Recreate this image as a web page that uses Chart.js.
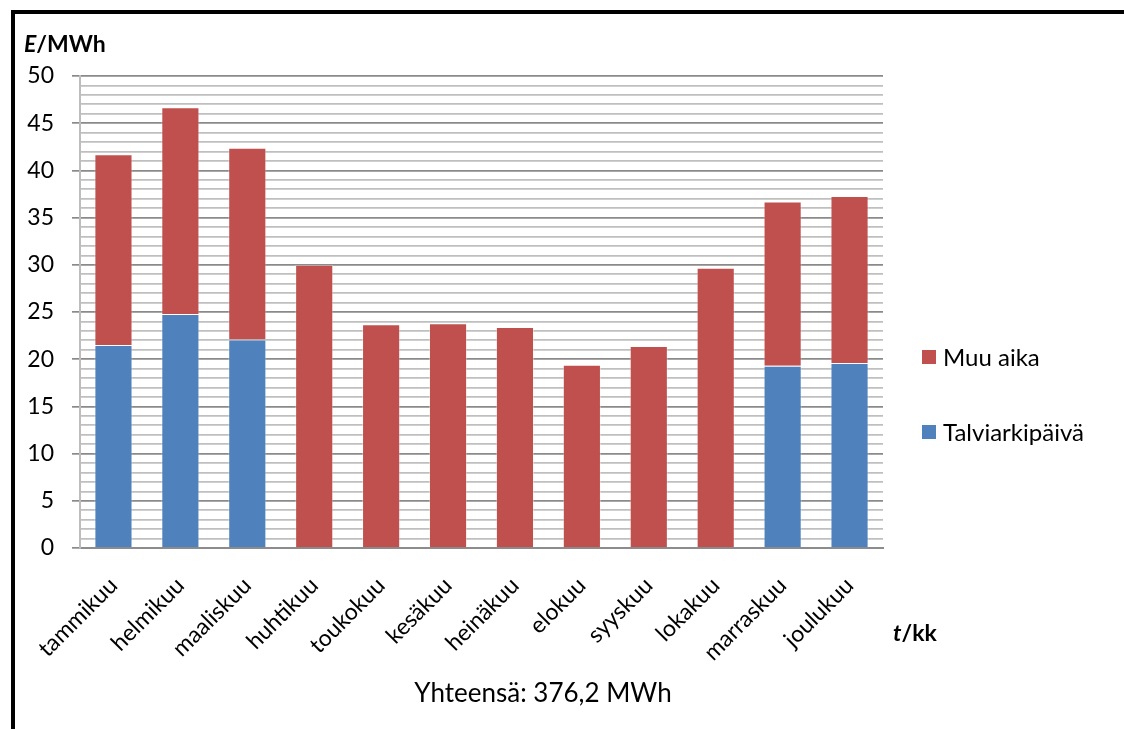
<!DOCTYPE html>
<html lang="fi">
<head>
<meta charset="utf-8">
<title>Energiankulutus kuukausittain</title>
<script src="https://cdn.jsdelivr.net/npm/chart.js@4/dist/chart.umd.min.js"></script>
<style>
  html, body { margin: 0; padding: 0; background: #ffffff; }
  #wrap { position: relative; width: 1124px; height: 729px; }
  canvas { display: block; }
</style>
</head>
<body>
<div id="wrap"><canvas id="c" width="1124" height="729"></canvas></div>
<script>
// Kuukaudet (luokka-akseli)
const months = ['tammikuu', 'helmikuu', 'maaliskuu', 'huhtikuu', 'toukokuu', 'kesäkuu',
                'heinäkuu', 'elokuu', 'syyskuu', 'lokakuu', 'marraskuu', 'joulukuu'];
// Talviarkipäivien energia, MWh
const talviarkipaiva = [21.5, 24.8, 22.1, 0, 0, 0, 0, 0, 0, 0, 19.3, 19.6];
// Muun ajan energia, MWh
const muuAika = [20.2, 21.9, 20.3, 30.0, 23.7, 23.8, 23.4, 19.4, 21.4, 29.7, 17.4, 17.7];
// Pystyakselin asteikko
const yMin = 0, yMax = 50, yMajorStep = 5, yMinorStep = 1;
const totalText = 'Yhteensä: 376,2 MWh';

const FONT = 'Lato, "Open Sans", sans-serif';
const RED = '#C0504D', BLUE = '#4F81BD';

const decor = {
  id: 'decor',
  beforeDraw(chart) {
    const ctx = chart.ctx;
    ctx.save();
    ctx.fillStyle = '#ffffff';
    ctx.fillRect(0, 0, chart.width, chart.height);
    // kehys
    ctx.fillStyle = '#000000';
    ctx.fillRect(11, 10, 4, chart.height);
    ctx.fillRect(11, 10, chart.width, 4);
    ctx.restore();
  },
  afterDraw(chart) {
    const ctx = chart.ctx;
    ctx.save();
    ctx.fillStyle = '#000000';
    ctx.textBaseline = 'alphabetic';
    // pystyakselin otsikko: E/MWh
    ctx.textAlign = 'left';
    let x = 24, y = 52;
    ctx.font = 'italic bold 23px ' + FONT;
    ctx.fillText('E', x, y);
    x += ctx.measureText('E').width;
    ctx.font = 'bold 23px ' + FONT;
    ctx.fillText('/MWh', x, y);
    // vaaka-akselin otsikko: t/kk
    x = 893; y = 641;
    ctx.font = 'italic bold 23px ' + FONT;
    ctx.fillText('t', x, y);
    x += ctx.measureText('t').width;
    ctx.font = 'bold 23px ' + FONT;
    ctx.fillText('/kk', x, y);
    // yhteissumma
    ctx.font = '26px ' + FONT;
    ctx.textAlign = 'center';
    ctx.fillText(totalText, 543, 702);
    // selite (ylin sarja ensin)
    const ds = chart.data.datasets.slice().reverse();
    const rows = [357, 432];
    ctx.textAlign = 'left';
    ctx.textBaseline = 'middle';
    ds.forEach((d, i) => {
      ctx.fillStyle = d.backgroundColor;
      ctx.fillRect(922, rows[i] - 7, 14, 14);
      ctx.fillStyle = '#000000';
      ctx.font = '24px ' + FONT;
      ctx.fillText(d.label, 943, rows[i] + 1);
    });
    ctx.restore();
  }
};

new Chart(document.getElementById('c'), {
  type: 'bar',
  data: {
    labels: months,
    datasets: [
      { label: 'Talviarkipäivä', data: talviarkipaiva, backgroundColor: BLUE,
        borderColor: 'rgba(255,255,255,0.35)', borderWidth: 1, borderSkipped: 'bottom' },
      { label: 'Muu aika', data: muuAika, backgroundColor: RED,
        borderColor: 'rgba(255,255,255,0.35)', borderWidth: 1, borderSkipped: 'bottom' }
    ]
  },
  options: {
    responsive: false,
    animation: false,
    devicePixelRatio: 1,
    layout: { padding: { left: 0, top: 76, right: 241, bottom: 0 } },
    plugins: { legend: { display: false }, tooltip: { enabled: false } },
    datasets: { bar: { barPercentage: 0.57, categoryPercentage: 1.0 } },
    scales: {
      x: {
        stacked: true,
        afterFit(s) { s.height = 181; },
        grid: { display: false, drawTicks: false },
        border: { display: true, color: '#8c8c8c', width: 2 },
        ticks: {
          color: '#000000', font: { family: FONT, size: 23 },
          minRotation: 45, maxRotation: 45, padding: 24, autoSkip: false
        }
      },
      y: {
        stacked: true,
        min: yMin, max: yMax,
        afterFit(s) { s.width = 80; },
        afterBuildTicks(s) {
          const t = [];
          for (let v = yMin; v <= yMax; v += yMinorStep) t.push({ value: v });
          s.ticks = t;
        },
        border: { display: true, color: '#bdbdbd', width: 2 },
        grid: {
          lineWidth: 1.7,
          tickLength: 8,
          color: c => (c.tick && c.tick.value % yMajorStep === 0) ? '#8a8a8a' : '#bfbfbf',
          tickColor: c => (c.tick && c.tick.value % yMajorStep === 0) ? '#8a8a8a' : 'rgba(0,0,0,0)',
          tickWidth: 1.7
        },
        ticks: {
          autoSkip: false,
          padding: 18,
          color: '#000000',
          font: { family: FONT, size: 23 },
          callback: v => (v % yMajorStep === 0) ? String(v) : ''
        }
      }
    }
  },
  plugins: [decor]
});
</script>
</body>
</html>
